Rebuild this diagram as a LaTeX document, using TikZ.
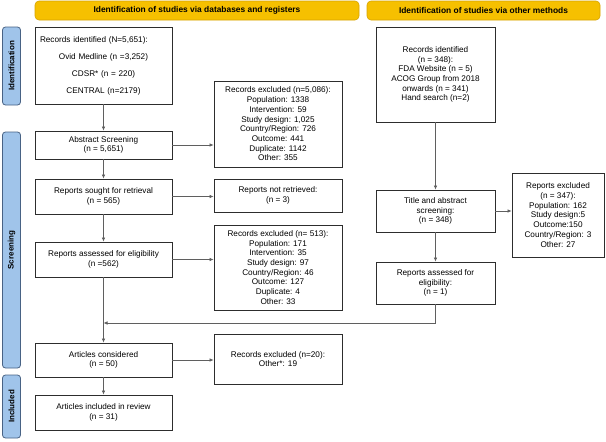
\documentclass[tikz,border=0pt]{standalone}
\usepackage{fontspec}
\setmainfont{Liberation Sans}
\usetikzlibrary{arrows.meta}

\definecolor{barYellow}{RGB}{246,192,0}
\definecolor{barYellowLine}{RGB}{214,163,0}
\definecolor{barBlue}{RGB}{160,196,234}
\definecolor{barBlueLine}{RGB}{72,98,132}
\definecolor{boxLine}{RGB}{45,45,45}
\definecolor{arrowLine}{RGB}{95,95,95}

\tikzset{
  flowbox/.style={draw=boxLine, line width=0.8pt, align=center,
    inner sep=2pt, font=\fontsize{8.2}{9.7}\selectfont},
  headbar/.style={draw=barYellowLine, fill=barYellow, rounded corners=4pt,
    line width=0.6pt, font=\fontsize{8.4}{9}\selectfont\bfseries},
  sidebar/.style={draw=barBlueLine, fill=barBlue, rounded corners=3pt,
    line width=0.8pt, font=\fontsize{8}{8}\selectfont\bfseries},
  flowarrow/.style={draw=arrowLine, line width=0.6pt,
    -{Latex[length=4pt,width=3.5pt]}},
  flowline/.style={draw=arrowLine, line width=0.6pt}
}

\begin{document}
\begin{tikzpicture}[x=1pt, y=-1pt]
  \useasboundingbox (0,0) rectangle (606,442);

  % Kopfleisten
  \node[headbar, minimum width=324pt, minimum height=19pt] (headDb) at (197,10.5)
    {Identification of studies via databases and registers};
  \node[headbar, minimum width=233pt, minimum height=19pt] (headOther) at (483.5,10.5)
    {Identification of studies via other methods};

  % Seitenleisten
  \node[sidebar, minimum width=78pt, minimum height=18pt, rotate=90] (sideIdent) at (11.5,66)
    {Identification};
  \node[sidebar, minimum width=236pt, minimum height=18pt, rotate=90] (sideScreen) at (11.5,250)
    {Screening};
  \node[sidebar, minimum width=63pt, minimum height=18pt, rotate=90] (sideIncl) at (11.5,406.5)
    {Included};

  % Linke Spalte
  \node[flowbox, minimum width=137pt, minimum height=77pt, text width=127pt, align=left] (idLeft) at (103.5,65.5)
    {Records identified (N=5,651):\\[7.3pt]
     \makebox[\linewidth]{Ovid Medline (n =3,252)}\\[7.3pt]
     \makebox[\linewidth]{CDSR* (n = 220)}\\[7.3pt]
     \makebox[\linewidth]{CENTRAL (n=2179)}};
  \node[flowbox, minimum width=137pt, minimum height=28pt] (absLeft) at (103.5,145)
    {Abstract Screening\\(n = 5,651)};
  \node[flowbox, minimum width=137pt, minimum height=35pt] (soughtLeft) at (103.5,196.5)
    {Reports sought for retrieval\\(n = 565)};
  \node[flowbox, minimum width=137pt, minimum height=35pt] (assessLeft) at (103.5,259.5)
    {Reports assessed for eligibility\\(n =562)};
  \node[flowbox, minimum width=137pt, minimum height=34pt] (consLeft) at (103.5,360)
    {Articles considered\\(n = 50)};
  \node[flowbox, minimum width=137pt, minimum height=35pt] (inclLeft) at (103.5,412.5)
    {Articles included in review\\(n = 31)};

  % Ausschluesse
  \node[flowbox, minimum width=128pt, minimum height=86pt] (exAbs) at (278,124)
    {Records excluded (n=5,086):\\Population: 1338\\Intervention: 59\\Study design: 1,025\\
     Country/Region: 726\\Outcome: 441\\Duplicate: 1142\\Other: 355};
  \node[flowbox, minimum width=128pt, minimum height=33pt] (exSought) at (278,195.5)
    {Reports not retrieved:\\(n = 3)};
  \node[flowbox, minimum width=128pt, minimum height=85pt] (exAssess) at (278,267.5)
    {Records excluded (n= 513):\\Population: 171\\Intervention: 35\\Study design: 97\\
     Country/Region: 46\\Outcome: 127\\Duplicate: 4\\Other: 33};
  \node[flowbox, minimum width=128pt, minimum height=50pt] (exCons) at (278,359)
    {Records excluded (n=20):\\Other*: 19};

  % Rechte Spalte
  \node[flowbox, minimum width=119pt, minimum height=95pt] (idRight) at (435.5,74.5)
    {Records identified\\(n = 348):\\FDA Website (n = 5)\\ACOG Group from 2018\\
     onwards (n = 341)\\Hand search (n=2)};
  \node[flowbox, minimum width=119pt, minimum height=42pt] (titleRight) at (435.5,211)
    {Title and abstract\\screening:\\(n = 348)};
  \node[flowbox, minimum width=119pt, minimum height=42pt] (assessRight) at (435.5,283)
    {Reports assessed for\\eligibility:\\(n = 1)};
  \node[flowbox, minimum width=92pt, minimum height=84pt] (exRight) at (558,215)
    {Reports excluded\\(n = 347):\\Population: 162\\Study design:5\\Outcome:150\\
     Country/Region: 3\\Other: 27};

  % Pfeile links
  \draw[flowarrow] (idLeft) -- (absLeft);
  \draw[flowarrow] (absLeft) -- (soughtLeft);
  \draw[flowarrow] (soughtLeft) -- (assessLeft);
  \draw[flowarrow] (assessLeft) -- (consLeft);
  \draw[flowarrow] (consLeft) -- (inclLeft);

  \draw[flowarrow] (absLeft) -- (exAbs.west |- absLeft);
  \draw[flowarrow] (soughtLeft) -- (exSought.west |- soughtLeft);
  \draw[flowarrow] (assessLeft) -- (exAssess.west |- assessLeft);
  \draw[flowarrow] (consLeft) -- (exCons.west |- consLeft);

  % Pfeile rechts
  \draw[flowarrow] (idRight) -- (titleRight);
  \draw[flowarrow] (titleRight) -- (assessRight);
  \draw[flowarrow] (titleRight) -- (exRight.west |- titleRight);

  % Zusammenfuehrung
  \coordinate (mergeRight) at (assessRight.south |- 0,323);
  \coordinate (mergeLeft) at (assessLeft.south |- 0,323);
  \draw[flowline] (assessRight.south) -- (mergeRight);
  \draw[flowarrow] (mergeRight) -- (mergeLeft);
\end{tikzpicture}
\end{document}
